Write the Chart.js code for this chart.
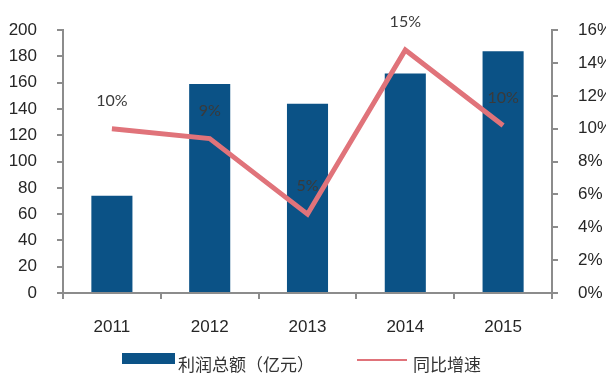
<!DOCTYPE html>
<html>
<head>
<meta charset="utf-8">
<script src="https://cdn.jsdelivr.net/npm/chart.js@4/dist/chart.umd.min.js"></script>
<style>
  html, body { margin: 0; padding: 0; background: #fff; overflow: hidden; width: 606px; height: 383px; }
  #wrap { width: 625px; height: 383px; }
</style>
</head>
<body>
<div id="wrap"><canvas id="c" width="625" height="383"></canvas></div>
<script>
const categories = ['2011', '2012', '2013', '2014', '2015'];
const profitTotal = [74, 159, 144, 167, 184];          // 利润总额（亿元）
const yoyGrowth = [10.0, 9.4, 4.8, 14.8, 10.2];        // 同比增速 (%)
const growthLabels = ['10%', '9%', '5%', '15%', '10%'];
const leftTicks = [0, 20, 40, 60, 80, 100, 120, 140, 160, 180, 200];
const rightTicks = [0, 2, 4, 6, 8, 10, 12, 14, 16];
const seriesNames = ['利润总额（亿元）', '同比增速'];

const BAR = '#0b5286';
const LINE = '#e0737a';
const AXIS = '#8c8c8c';
const TXT = '#262626';
const AX_FONT = { family: '"Liberation Sans", Arial, sans-serif', size: 17 };

const labelPlugin = {
  id: 'labelsAndLegend',
  afterDraw(chart) {
    const ctx = chart.ctx;
    const meta = chart.getDatasetMeta(0);
    ctx.save();
    ctx.font = '16px Lato, "Open Sans", sans-serif';
    ctx.fillStyle = '#3a3a3a';
    ctx.textAlign = 'center';
    ctx.textBaseline = 'middle';
    meta.data.forEach((pt, i) => {
      ctx.fillText(growthLabels[i], pt.x, pt.y - 28);
    });
    // legend
    ctx.fillStyle = BAR;
    ctx.fillRect(122, 353, 53, 11);
    ctx.strokeStyle = LINE;
    ctx.lineWidth = 2;
    ctx.beginPath();
    ctx.moveTo(357, 360);
    ctx.lineTo(407, 360);
    ctx.stroke();
    ctx.fillStyle = '#333';
    ctx.font = '17px "Noto Sans CJK SC", sans-serif';
    ctx.textBaseline = 'middle';
    ctx.textAlign = 'left';
    ctx.fillText(seriesNames[0], 178, 365);
    ctx.fillText(seriesNames[1], 413, 365);
    ctx.restore();
  }
};

new Chart(document.getElementById('c'), {
  data: {
    labels: categories,
    datasets: [
      {
        type: 'line',
        label: seriesNames[1],
        data: yoyGrowth,
        yAxisID: 'y2',
        borderColor: LINE,
        borderWidth: 5,
        pointRadius: 0,
        tension: 0,
        order: 0
      },
      {
        type: 'bar',
        label: seriesNames[0],
        data: profitTotal,
        yAxisID: 'y',
        backgroundColor: BAR,
        categoryPercentage: 1.0,
        barPercentage: 0.42,
        order: 1
      }
    ]
  },
  plugins: [labelPlugin],
  options: {
    responsive: false,
    animation: false,
    events: [],
    layout: { padding: { top: 27, bottom: 0, left: 0, right: 0 } },
    plugins: { legend: { display: false }, tooltip: { enabled: false } },
    scales: {
      x: {
        grid: { display: true, drawOnChartArea: false, drawTicks: true, tickLength: 6, color: AXIS, lineWidth: 2, offset: true },
        border: { display: true, color: AXIS, width: 2 },
        ticks: { font: AX_FONT, color: TXT, padding: 18, maxRotation: 0 },
        afterFit(s) { s.height = 90; }
      },
      y: {
        position: 'left',
        min: 0, max: 200,
        afterBuildTicks(s) { s.ticks = leftTicks.map(v => ({ value: v })); },
        grid: { display: true, drawOnChartArea: false, drawTicks: true, tickLength: 6, color: AXIS, lineWidth: 2 },
        border: { display: true, color: AXIS, width: 2 },
        ticks: { font: AX_FONT, color: TXT, padding: 20 },
        afterFit(s) { s.width = 63; }
      },
      y2: {
        position: 'right',
        min: 0, max: 16,
        afterBuildTicks(s) { s.ticks = rightTicks.map(v => ({ value: v })); },
        grid: { display: true, drawOnChartArea: false, drawTicks: true, tickLength: 6, color: AXIS, lineWidth: 2 },
        border: { display: true, color: AXIS, width: 2 },
        ticks: { font: AX_FONT, color: TXT, padding: 20, callback: v => v + '%' },
        afterFit(s) { s.width = 73; }
      }
    }
  }
});
</script>
</body>
</html>
